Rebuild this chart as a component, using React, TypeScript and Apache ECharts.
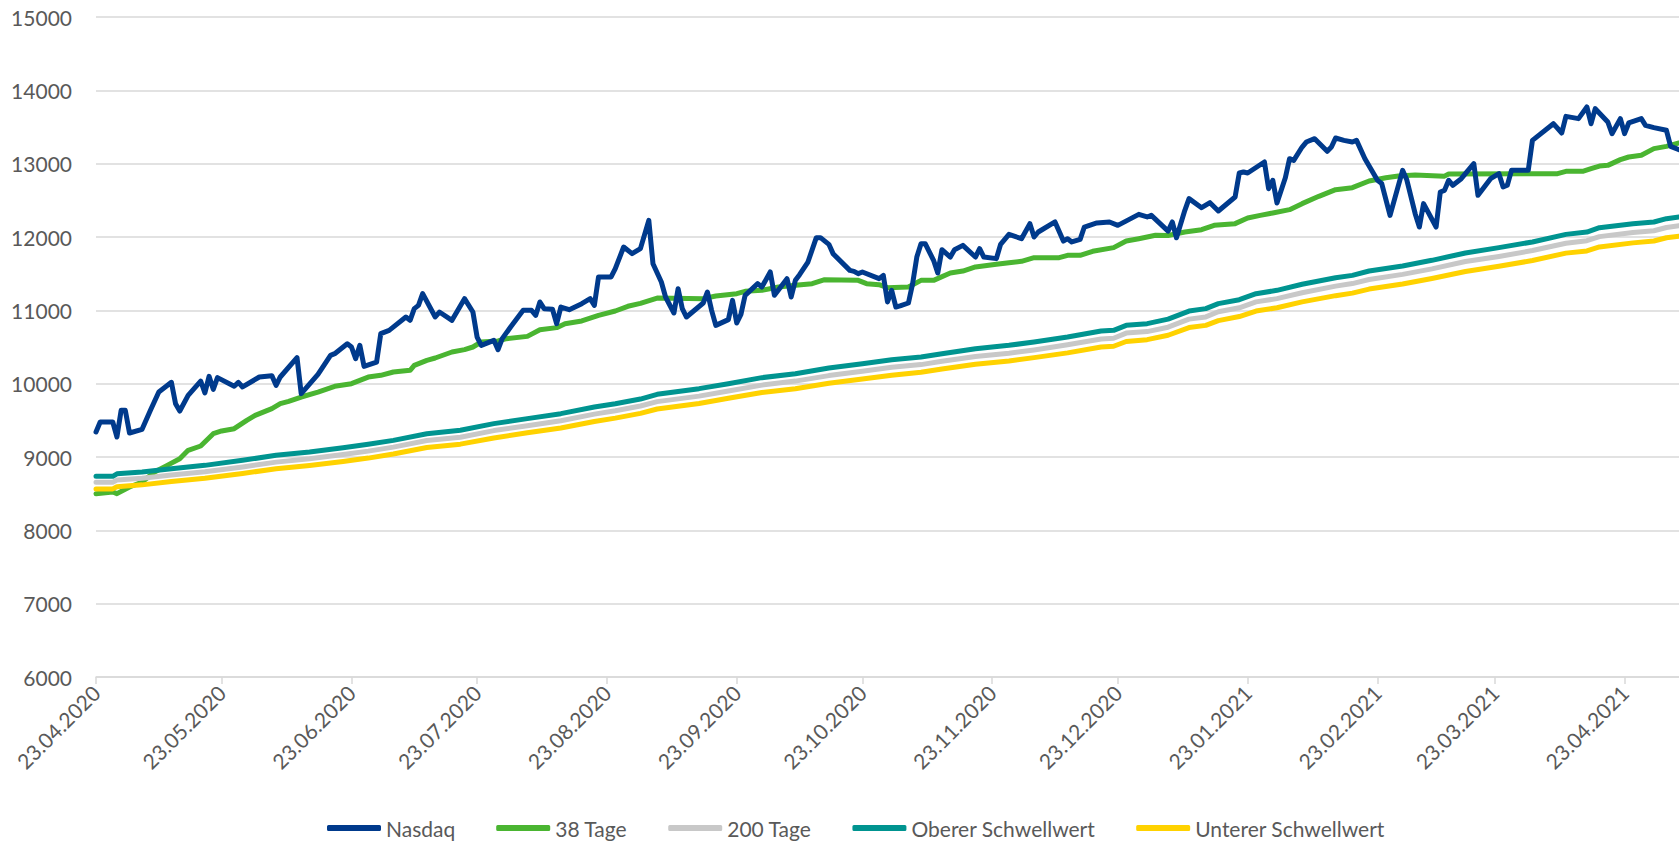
import React, { useEffect, useRef } from "react";
import * as echarts from "echarts";

// ---- Data ----
const tickDates = [
  "2020-04-23", "2020-05-23", "2020-06-23", "2020-07-23", "2020-08-23", "2020-09-23",
  "2020-10-23", "2020-11-23", "2020-12-23", "2021-01-23", "2021-02-23", "2021-03-23", "2021-04-23",
];
const axisStart = "2020-04-23";
const axisEnd = "2021-05-06";

const nasdaqDates = [
  "2020-04-23", "2020-04-24", "2020-04-27", "2020-04-28", "2020-04-29", "2020-04-30", "2020-05-01", "2020-05-04",
  "2020-05-06", "2020-05-08", "2020-05-11", "2020-05-12", "2020-05-13", "2020-05-15", "2020-05-18", "2020-05-19",
  "2020-05-20", "2020-05-21", "2020-05-22", "2020-05-26", "2020-05-27", "2020-05-28", "2020-06-01", "2020-06-04",
  "2020-06-05", "2020-06-06", "2020-06-10", "2020-06-11", "2020-06-15", "2020-06-18", "2020-06-19", "2020-06-22",
  "2020-06-23", "2020-06-24", "2020-06-25", "2020-06-26", "2020-06-29", "2020-06-30", "2020-07-02", "2020-07-06",
  "2020-07-07", "2020-07-08", "2020-07-09", "2020-07-10", "2020-07-13", "2020-07-14", "2020-07-17", "2020-07-20",
  "2020-07-22", "2020-07-23", "2020-07-24", "2020-07-27", "2020-07-28", "2020-07-29", "2020-07-31", "2020-08-03",
  "2020-08-05", "2020-08-06", "2020-08-07", "2020-08-08", "2020-08-10", "2020-08-11", "2020-08-12", "2020-08-14",
  "2020-08-17", "2020-08-19", "2020-08-20", "2020-08-21", "2020-08-24", "2020-08-25", "2020-08-27", "2020-08-29",
  "2020-08-31", "2020-09-02", "2020-09-03", "2020-09-05", "2020-09-06", "2020-09-08", "2020-09-09", "2020-09-10",
  "2020-09-11", "2020-09-15", "2020-09-16", "2020-09-17", "2020-09-18", "2020-09-21", "2020-09-22", "2020-09-23",
  "2020-09-24", "2020-09-25", "2020-09-28", "2020-09-29", "2020-10-01", "2020-10-02", "2020-10-05", "2020-10-06",
  "2020-10-07", "2020-10-08", "2020-10-10", "2020-10-12", "2020-10-13", "2020-10-15", "2020-10-16", "2020-10-20",
  "2020-10-21", "2020-10-22", "2020-10-23", "2020-10-27", "2020-10-28", "2020-10-29", "2020-10-30", "2020-10-31",
  "2020-11-01", "2020-11-03", "2020-11-04", "2020-11-05", "2020-11-06", "2020-11-07", "2020-11-09", "2020-11-10",
  "2020-11-11", "2020-11-13", "2020-11-14", "2020-11-16", "2020-11-19", "2020-11-20", "2020-11-21", "2020-11-24",
  "2020-11-25", "2020-11-27", "2020-11-30", "2020-12-02", "2020-12-03", "2020-12-04", "2020-12-08", "2020-12-10",
  "2020-12-11", "2020-12-12", "2020-12-14", "2020-12-15", "2020-12-18", "2020-12-21", "2020-12-23", "2020-12-28",
  "2020-12-30", "2020-12-31", "2021-01-04", "2021-01-05", "2021-01-06", "2021-01-08", "2021-01-09", "2021-01-12",
  "2021-01-14", "2021-01-16", "2021-01-20", "2021-01-21", "2021-01-22", "2021-01-23", "2021-01-27", "2021-01-28",
  "2021-01-29", "2021-01-30", "2021-02-01", "2021-02-02", "2021-02-03", "2021-02-05", "2021-02-06", "2021-02-08",
  "2021-02-11", "2021-02-12", "2021-02-13", "2021-02-15", "2021-02-17", "2021-02-18", "2021-02-20", "2021-02-23",
  "2021-02-24", "2021-02-26", "2021-03-01", "2021-03-02", "2021-03-04", "2021-03-05", "2021-03-06", "2021-03-09",
  "2021-03-10", "2021-03-11", "2021-03-12", "2021-03-13", "2021-03-15", "2021-03-18", "2021-03-19", "2021-03-22",
  "2021-03-24", "2021-03-25", "2021-03-26", "2021-03-27", "2021-03-31", "2021-04-01", "2021-04-06", "2021-04-08",
  "2021-04-09", "2021-04-12", "2021-04-14", "2021-04-15", "2021-04-16", "2021-04-19", "2021-04-20", "2021-04-22",
  "2021-04-23", "2021-04-24", "2021-04-27", "2021-04-28", "2021-04-30", "2021-05-03", "2021-05-04", "2021-05-06",
];
const nasdaqValues = [
  9341, 9477, 9477, 9273, 9636, 9636, 9327, 9377,
  9636, 9886, 10018, 9727, 9627, 9841, 10036, 9873,
  10100, 9923, 10082, 9964, 10018, 9955, 10091, 10109,
  9977, 10091, 10355, 9864, 10127, 10386, 10409, 10545,
  10500, 10341, 10523, 10236, 10295, 10682, 10727, 10909,
  10864, 11023, 11068, 11227, 10909, 10977, 10864, 11159,
  10977, 10636, 10523, 10591, 10464, 10614, 10773, 11000,
  11000, 10932, 11114, 11023, 11014, 10818, 11045, 11009,
  11091, 11159, 11068, 11455, 11455, 11568, 11864, 11773,
  11841, 12227, 11636, 11386, 11182, 10964, 11295, 11023,
  10909, 11100, 11250, 11000, 10795, 10873, 11136, 10827,
  10945, 11205, 11364, 11318, 11523, 11205, 11432, 11182,
  11409, 11486, 11659, 11991, 11991, 11900, 11773, 11545,
  11532, 11500, 11523, 11432, 11477, 11114, 11273, 11045,
  11060, 11100, 11364, 11727, 11909, 11909, 11682, 11509,
  11827, 11727, 11827, 11886, 11727, 11841, 11727, 11705,
  11900, 12036, 11977, 12182, 12000, 12068, 12205, 11945,
  11977, 11932, 11968, 12136, 12191, 12205, 12159, 12309,
  12273, 12295, 12080, 12205, 11990, 12364, 12523, 12400,
  12468, 12355, 12545, 12873, 12886, 12873, 13023, 12659,
  12773, 12464, 12809, 13068, 13045, 13227, 13295, 13341,
  13168, 13227, 13350, 13318, 13295, 13318, 13068, 12773,
  12730, 12295, 12909, 12780, 12318, 12136, 12455, 12136,
  12614, 12636, 12773, 12705, 12795, 13000, 12568, 12795,
  12864, 12682, 12705, 12909, 12909, 13318, 13545, 13418,
  13645, 13614, 13773, 13545, 13750, 13568, 13409, 13614,
  13409, 13555, 13614, 13523, 13491, 13455, 13236, 13191,
];

const ma38Dates = [
  "2020-04-23", "2020-04-27", "2020-04-28", "2020-05-01", "2020-05-04", "2020-05-07", "2020-05-10", "2020-05-13",
  "2020-05-15", "2020-05-18", "2020-05-21", "2020-05-23", "2020-05-26", "2020-05-29", "2020-05-31", "2020-06-04",
  "2020-06-06", "2020-06-08", "2020-06-11", "2020-06-15", "2020-06-19", "2020-06-23", "2020-06-25", "2020-06-27",
  "2020-06-30", "2020-07-03", "2020-07-07", "2020-07-08", "2020-07-11", "2020-07-13", "2020-07-17", "2020-07-20",
  "2020-07-22", "2020-07-24", "2020-07-28", "2020-07-30", "2020-08-04", "2020-08-07", "2020-08-11", "2020-08-13",
  "2020-08-17", "2020-08-21", "2020-08-25", "2020-08-28", "2020-08-31", "2020-09-04", "2020-09-15", "2020-09-18",
  "2020-09-23", "2020-09-25", "2020-09-29", "2020-10-03", "2020-10-07", "2020-10-11", "2020-10-14", "2020-10-22",
  "2020-10-24", "2020-10-27", "2020-10-29", "2020-11-03", "2020-11-06", "2020-11-09", "2020-11-13", "2020-11-16",
  "2020-11-19", "2020-11-24", "2020-11-27", "2020-11-30", "2020-12-03", "2020-12-09", "2020-12-11", "2020-12-14",
  "2020-12-17", "2020-12-22", "2020-12-25", "2020-12-28", "2021-01-01", "2021-01-04", "2021-01-08", "2021-01-12",
  "2021-01-15", "2021-01-20", "2021-01-23", "2021-01-26", "2021-01-29", "2021-02-02", "2021-02-05", "2021-02-09",
  "2021-02-13", "2021-02-17", "2021-02-21", "2021-02-25", "2021-02-28", "2021-03-04", "2021-03-11", "2021-03-12",
  "2021-04-07", "2021-04-09", "2021-04-13", "2021-04-15", "2021-04-17", "2021-04-19", "2021-04-22", "2021-04-24",
  "2021-04-27", "2021-04-30", "2021-05-03", "2021-05-06",
];
const ma38Values = [
  8500, 8523, 8500, 8591, 8659, 8795, 8886, 8977,
  9091, 9150, 9318, 9355, 9386, 9500, 9568, 9659,
  9727, 9759, 9818, 9886, 9964, 10000, 10045, 10090,
  10114, 10159, 10182, 10250, 10318, 10350, 10432, 10464,
  10500, 10568, 10582, 10614, 10645, 10736, 10764, 10818,
  10855, 10932, 10991, 11055, 11095, 11168, 11159, 11195,
  11227, 11259, 11273, 11318, 11341, 11364, 11418, 11409,
  11364, 11350, 11309, 11318, 11409, 11409, 11509, 11536,
  11591, 11627, 11650, 11668, 11718, 11718, 11750, 11750,
  11805, 11855, 11945, 11977, 12023, 12020, 12068, 12100,
  12159, 12182, 12259, 12295, 12327, 12373, 12455, 12555,
  12645, 12673, 12764, 12809, 12832, 12845, 12830, 12860,
  12864, 12895, 12895, 12932, 12968, 12977, 13055, 13091,
  13114, 13205, 13236, 13282,
];

const bandDates = [
  "2020-04-23", "2020-04-27", "2020-04-28", "2020-05-04", "2020-05-11", "2020-05-19", "2020-05-28", "2020-06-05",
  "2020-06-13", "2020-06-21", "2020-06-27", "2020-07-03", "2020-07-11", "2020-07-19", "2020-07-27", "2020-08-04",
  "2020-08-12", "2020-08-20", "2020-08-25", "2020-08-31", "2020-09-04", "2020-09-14", "2020-09-21", "2020-09-29",
  "2020-10-07", "2020-10-15", "2020-10-23", "2020-10-30", "2020-11-06", "2020-11-11", "2020-11-19", "2020-11-27",
  "2020-12-03", "2020-12-11", "2020-12-19", "2020-12-22", "2020-12-25", "2020-12-30", "2021-01-04", "2021-01-09",
  "2021-01-13", "2021-01-16", "2021-01-21", "2021-01-25", "2021-01-30", "2021-02-05", "2021-02-13", "2021-02-17",
  "2021-02-21", "2021-03-01", "2021-03-08", "2021-03-16", "2021-03-24", "2021-04-01", "2021-04-09", "2021-04-14",
  "2021-04-17", "2021-04-25", "2021-04-30", "2021-05-03", "2021-05-06",
];
const ma200Values = [
  8655, 8655, 8685, 8710, 8755, 8800, 8865, 8930,
  8975, 9035, 9080, 9135, 9225, 9270, 9360, 9425,
  9495, 9585, 9630, 9695, 9755, 9830, 9900, 9980,
  10035, 10110, 10170, 10225, 10260, 10305, 10370, 10415,
  10460, 10530, 10610, 10620, 10690, 10710, 10770, 10880,
  10910, 10980, 11035, 11115, 11160, 11240, 11330, 11365,
  11420, 11490, 11565, 11665, 11735, 11815, 11915, 11950,
  12005, 12060, 12085, 12130, 12155,
];
const upperValues = [
  8736, 8736, 8770, 8795, 8841, 8886, 8955, 9023,
  9068, 9127, 9175, 9227, 9318, 9364, 9455, 9523,
  9591, 9682, 9727, 9790, 9855, 9932, 10000, 10082,
  10136, 10214, 10273, 10327, 10364, 10409, 10477, 10523,
  10568, 10636, 10718, 10727, 10795, 10818, 10880, 10990,
  11023, 11091, 11145, 11227, 11273, 11355, 11445, 11477,
  11536, 11605, 11682, 11782, 11855, 11932, 12036, 12068,
  12127, 12182, 12205, 12250, 12273,
];
const lowerValues = [
  8565, 8565, 8595, 8620, 8665, 8710, 8775, 8840,
  8885, 8940, 8985, 9040, 9130, 9175, 9260, 9330,
  9395, 9485, 9530, 9595, 9655, 9730, 9800, 9880,
  9930, 10005, 10065, 10115, 10155, 10200, 10265, 10310,
  10355, 10420, 10500, 10510, 10575, 10600, 10660, 10765,
  10795, 10860, 10915, 10990, 11035, 11115, 11200, 11235,
  11290, 11360, 11435, 11530, 11600, 11680, 11780, 11810,
  11865, 11920, 11945, 11990, 12010,
];

const seriesNames = ["Nasdaq", "38 Tage", "200 Tage", "Oberer Schwellwert", "Unterer Schwellwert"];
const seriesColors = ["#003A8C", "#4AB531", "#C8C8C8", "#009490", "#FFD200"];

function toTs(s: string): number {
  const [y, m, d] = s.split("-").map(Number);
  return new Date(y, m - 1, d).getTime();
}
function pairs(dates: string[], values: number[]) {
  return dates.map((d, i) => [toTs(d), values[i]]);
}
function fmt(v: number): string {
  const d = new Date(v);
  const dd = String(d.getDate()).padStart(2, "0");
  const mm = String(d.getMonth() + 1).padStart(2, "0");
  return `${dd}.${mm}.${d.getFullYear()}`;
}

export default function App() {
  const ref = useRef<HTMLDivElement>(null);
  useEffect(() => {
    document.body.style.margin = "0";
    const chart = echarts.init(ref.current!, null, { renderer: "svg" });
    const font = "Lato, 'Open Sans', sans-serif";
    const textColor = "#595959";
    const gridColor = "#D9D9D9";
    const ticks = tickDates.map(toTs);
    const seriesData = [
      pairs(nasdaqDates, nasdaqValues),
      pairs(ma38Dates, ma38Values),
      pairs(bandDates, ma200Values),
      pairs(bandDates, upperValues),
      pairs(bandDates, lowerValues),
    ];
    chart.setOption({
      animation: false,
      backgroundColor: "#ffffff",
      textStyle: { fontFamily: font },
      grid: { left: 96, right: 0, top: 17, height: 660, outerBoundsMode: "none", containLabel: false },
      legend: {
        data: seriesNames,
        left: 327,
        top: 816,
        padding: 0,
        itemGap: 41,
        itemWidth: 54,
        itemHeight: 6,
        icon: "roundRect",
        textStyle: { color: textColor, fontSize: 21, fontFamily: font, lineHeight: 24 },
      },
      xAxis: {
        type: "value",
        min: toTs(axisStart),
        max: toTs(axisEnd),
        scale: true,
        splitLine: { show: false },
        axisLine: { show: true, lineStyle: { color: gridColor, width: 1.5 } },
        axisTick: { show: true, customValues: ticks, length: 7, lineStyle: { color: gridColor, width: 1.5 } },
        axisLabel: {
          customValues: ticks,
          formatter: (v: number) => fmt(v),
          rotate: 45,
          margin: 12,
          color: textColor,
          fontSize: 21,
          fontFamily: font,
        },
      },
      yAxis: {
        type: "value",
        min: 6000,
        max: 15000,
        interval: 1000,
        axisLine: { show: false },
        axisTick: { show: false },
        axisLabel: { margin: 24, color: textColor, fontSize: 21, fontFamily: font, formatter: (v: number) => String(v) },
        splitLine: { lineStyle: { color: gridColor, width: 1.5 } },
      },
      series: seriesNames.map((name, i) => ({
        name,
        type: "line",
        data: seriesData[i],
        symbol: "none",
        showSymbol: false,
        z: i === 0 ? 5 : 2 + i * 0.1,
        color: seriesColors[i],
        lineStyle: { color: seriesColors[i], width: 5, join: "round", cap: "round" },
      })),
    });
    return () => chart.dispose();
  }, []);
  return (
    <div
      ref={ref}
      style={{ position: "fixed", left: 0, top: 0, width: 1679, height: 845, background: "#fff" }}
    />
  );
}
